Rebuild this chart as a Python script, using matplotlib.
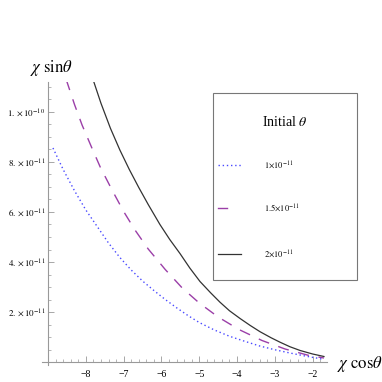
import matplotlib
matplotlib.use("Agg")
import matplotlib.pyplot as plt
from matplotlib.ticker import MultipleLocator, FixedLocator, FixedFormatter
from matplotlib.lines import Line2D
from matplotlib.patches import Rectangle

plt.rcParams['mathtext.fontset'] = 'stix'
plt.rcParams['font.family'] = ['Liberation Serif', 'DejaVu Serif']

# data: x = chi cos(theta), y = chi sin(theta) in units of 1e-11
blue_x = [-8.87, -8.6, -8.3, -8.0, -7.7, -7.4, -7.1, -6.8, -6.5, -6.2, -5.9, -5.6, -5.3, -5.0,
          -4.6, -4.2, -3.8, -3.4, -3.0, -2.6, -2.2, -1.9, -1.7]
blue_y = [8.56, 7.70, 6.85, 6.08, 5.42, 4.76, 4.18, 3.68, 3.24, 2.86, 2.50, 2.17, 1.86, 1.58,
          1.28, 1.03, 0.83, 0.64, 0.49, 0.36, 0.24, 0.16, 0.10]
mag_x = [-8.52, -8.3, -8.1, -7.84, -7.62, -7.3, -7.0, -6.7, -6.35, -5.9, -5.45, -5.0, -4.5,
         -3.95, -3.34, -2.73, -2.12, -1.7]
mag_y = [11.3, 10.3, 9.48, 8.56, 7.80, 6.86, 6.02, 5.28, 4.52, 3.70, 2.96, 2.36, 1.80,
         1.30, 0.86, 0.52, 0.27, 0.16]
blk_x = [-7.81, -7.6, -7.35, -7.1, -6.85, -6.6, -6.35, -6.04, -5.78, -5.51, -5.25, -4.98,
         -4.7, -4.45, -4.2, -3.92, -3.65, -3.39, -3.1, -2.86, -2.6, -2.33, -2.0, -1.7]
blk_y = [11.3, 10.35, 9.35, 8.48, 7.70, 6.98, 6.30, 5.50, 4.90, 4.34, 3.76, 3.22,
         2.77, 2.39, 2.05, 1.74, 1.46, 1.21, 0.97, 0.79, 0.61, 0.46, 0.32, 0.22]

labels = [r"$1{\times}10^{-11}$", r"$1.5{\times}10^{-11}$", r"$2{\times}10^{-11}$"]
ytick_vals = [2, 4, 6, 8, 10]
ytick_labels = [r"$2.\times10^{-11}$", r"$4.\times10^{-11}$", r"$6.\times10^{-11}$",
                r"$8.\times10^{-11}$", r"$1.\times10^{-10}$"]
xtick_vals = [-8, -7, -6, -5, -4, -3, -2]

colors = ['#4a4aff', '#9b3fa8', '#333333']
styles = [(0, (1, 2)), (0, (8, 7)), '-']
widths = [1.0, 1.0, 0.9]

fig = plt.figure(figsize=(3.82, 3.82), dpi=100)
ax = fig.add_axes([42/382, 1-365/382, (327-42)/382, (365-82)/382])

series = [(blue_x, blue_y), (mag_x, mag_y), (blk_x, blk_y)]
for (xs, ys), c, ls, lw, lab in zip(series, colors, styles, widths, labels):
    ax.plot(xs, ys, color=c, lw=lw, linestyle=ls, label=lab)

ax.set_xlim(-9.16, -1.62)
ax.set_ylim(-0.12, 11.2)

for s in ['top', 'right']:
    ax.spines[s].set_visible(False)
ax.spines['left'].set_position(('data', -9.0))
ax.spines['bottom'].set_position(('data', 0.0))
for s in ['left', 'bottom']:
    ax.spines[s].set_color('#999999')
    ax.spines[s].set_linewidth(0.8)

ax.xaxis.set_major_locator(FixedLocator(xtick_vals))
ax.xaxis.set_major_formatter(FixedFormatter([f"\u2212{abs(v)}" for v in xtick_vals]))
ax.xaxis.set_minor_locator(MultipleLocator(0.2))
ax.yaxis.set_major_locator(FixedLocator(ytick_vals))
ax.yaxis.set_major_formatter(FixedFormatter(ytick_labels))
ax.yaxis.set_minor_locator(MultipleLocator(0.5))

ax.tick_params(axis='both', which='major', direction='in', length=4, width=0.6,
               color='#999999', labelsize=7)
ax.tick_params(axis='both', which='minor', direction='in', length=2.2, width=0.5,
               color='#999999')
ax.tick_params(axis='x', pad=6)
ax.tick_params(axis='y', labelsize=6.5, pad=2)

fig.text(30/382, 1-68/382, r"$\chi\ \mathrm{sin}\theta$", fontsize=12, ha='left', va='center')
fig.text(337/382, 1-364/382, r"$\chi\ \mathrm{cos}\theta$", fontsize=12, ha='left', va='center')

# legend box (drawn in figure pixel coordinates)
def fx(px):
    return px / 382
def fy(py):
    return 1 - py / 382

fig.add_artist(Rectangle((fx(213), fy(280)), fx(357) - fx(213), fy(93) - fy(280),
                         transform=fig.transFigure, fill=True, facecolor='white',
                         edgecolor='#777777', linewidth=0.8))
fig.text(fx(285), fy(122), r"Initial $\theta$", fontsize=10, ha='center', va='center')
row_y = [165, 208, 254]
handle_end = [241, 227, 241]
for ry, he, c, ls, lw, lab in zip(row_y, handle_end, colors, styles, widths, labels):
    fig.add_artist(Line2D([fx(218), fx(he)], [fy(ry), fy(ry)], transform=fig.transFigure,
                          color=c, linestyle=ls if ls != (0, (8, 7)) else '-', lw=lw))
    fig.text(fx(264), fy(ry), lab, fontsize=6, ha='left', va='center')

fig.savefig("out.png", dpi=100)
